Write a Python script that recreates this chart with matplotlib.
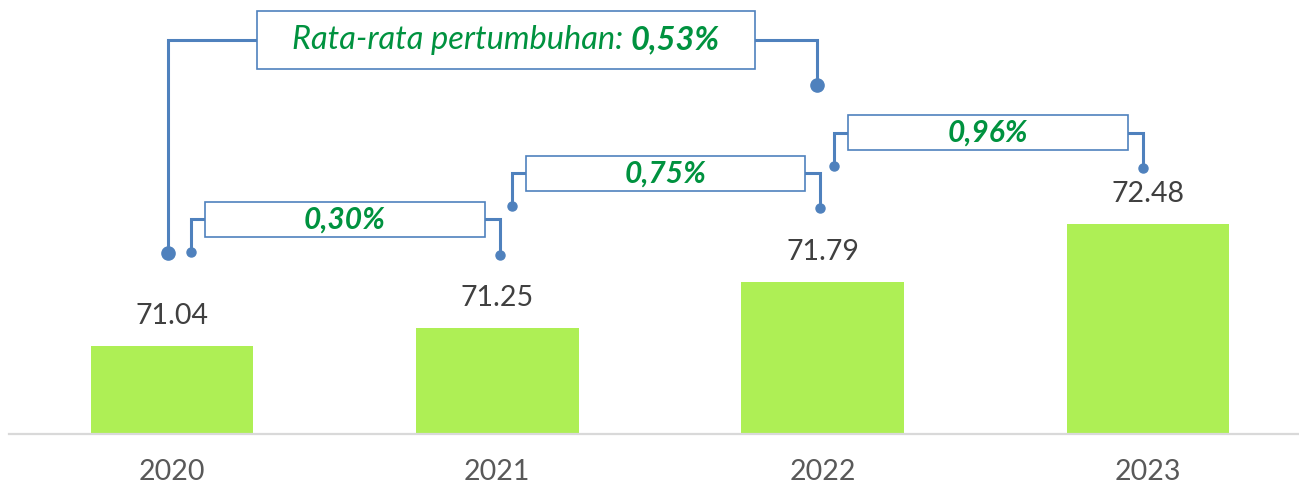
import matplotlib
matplotlib.use("Agg")
import matplotlib.pyplot as plt
from matplotlib.patches import Rectangle

# ---- data ----
years = ["2020", "2021", "2022", "2023"]
values = [71.04, 71.25, 71.79, 72.48]
growth_labels = ["0,30%", "0,75%", "0,96%"]
avg_prefix = "Rata-rata pertumbuhan: "
avg_label = "0,53%"

# ---- layout (annotation geometry in data units) ----
# (x_left_dot, x_right_dot, y_left_dot, y_right_dot, y_mid)
small_brackets = [
    (0.058, 1.008, 72.149, 72.113, 72.535),
    (1.045, 1.992, 72.692, 72.668, 73.078),
    (2.035, 2.985, 73.164, 73.140, 73.555),
]
big_bracket = (-0.012, 1.983, 72.137, 74.120, 74.650)
big_box = (0.261, 1.792, 74.309, 74.994)

BAR_C = "#AEEF55"
LINE_C = "#4F81BD"
GREEN = "#00923F"
FONT = ["Lato", "DejaVu Sans"]

fig = plt.figure(figsize=(12.99, 4.91), dpi=100)
ax = fig.add_axes([9.3 / 1299, 57 / 491, (1299 - 9.3) / 1299, 434 / 491])
ax.set_xlim(-0.5, (1299 - 172) / 325.3)
ax.set_ylim(70, 70 + 434 / 84.7)

x = list(range(len(years)))
ax.bar(x, [v - 70 for v in values], bottom=70, width=0.5, color=BAR_C, zorder=2)

for xi, v in zip(x, values):
    ax.text(xi, v + 0.355, f"{v:.2f}", ha="center", va="center",
            fontsize=20.5, color="#404040", family=FONT)

for s in ["top", "left", "right"]:
    ax.spines[s].set_visible(False)
ax.spines["bottom"].set_color("#D9D9D9")
ax.spines["bottom"].set_linewidth(1.6)
ax.set_yticks([])
ax.set_xticks(x)
ax.set_xticklabels(years, fontsize=20.5, color="#595959", family=FONT)
ax.tick_params(axis="x", length=0, pad=18)

def connector(xd, yd, xb, ym, ms):
    ax.plot([xb, xd, xd], [ym, ym, yd], color=LINE_C, lw=2.2,
            solid_joinstyle="miter", zorder=3)
    ax.plot([xd], [yd], "o", color=LINE_C, ms=ms, zorder=4)

half_h = 0.207
for (xl, xr, yl, yr, ym), lab in zip(small_brackets, growth_labels):
    bx0, bx1 = xl + 0.043, xr - 0.046
    connector(xl, yl, bx0, ym, 6.5)
    connector(xr, yr, bx1, ym, 6.5)
    ax.add_patch(Rectangle((bx0, ym - half_h), bx1 - bx0, 2 * half_h,
                           facecolor="white", edgecolor=LINE_C, lw=1.2, zorder=5))
    ax.text((bx0 + bx1) / 2, ym, lab, ha="center", va="center", fontsize=21.5,
            fontweight="bold", fontstyle="italic", color=GREEN, family=FONT, zorder=6)

xl, xr, yl, yr, ym = big_bracket
b0, b1, by0, by1 = big_box
connector(xl, yl, b0, ym, 9.5)
connector(xr, yr, b1, ym, 9.5)
ax.add_patch(Rectangle((b0, by0), b1 - b0, by1 - by0, facecolor="white",
                       edgecolor=LINE_C, lw=1.2, zorder=5))
t1 = ax.text(0, 0, avg_prefix, fontsize=23.5, fontstyle="italic", color=GREEN,
             family=FONT, va="center", ha="left", zorder=6)
t2 = ax.text(0, 0, avg_label, fontsize=23.5, fontstyle="italic", fontweight="bold",
             color=GREEN, family=FONT, va="center", ha="left", zorder=6)
fig.canvas.draw()
r = fig.canvas.get_renderer()
w1 = t1.get_window_extent(r).width
w2 = t2.get_window_extent(r).width
inv = ax.transData.inverted()
cx_px = ax.transData.transform(((b0 + b1) / 2, ym))
start = cx_px[0] - (w1 + w2) / 2
p1 = inv.transform((start, cx_px[1]))
p2 = inv.transform((start + w1, cx_px[1]))
t1.set_position(p1)
t2.set_position(p2)

fig.savefig("out.png", dpi=100)
